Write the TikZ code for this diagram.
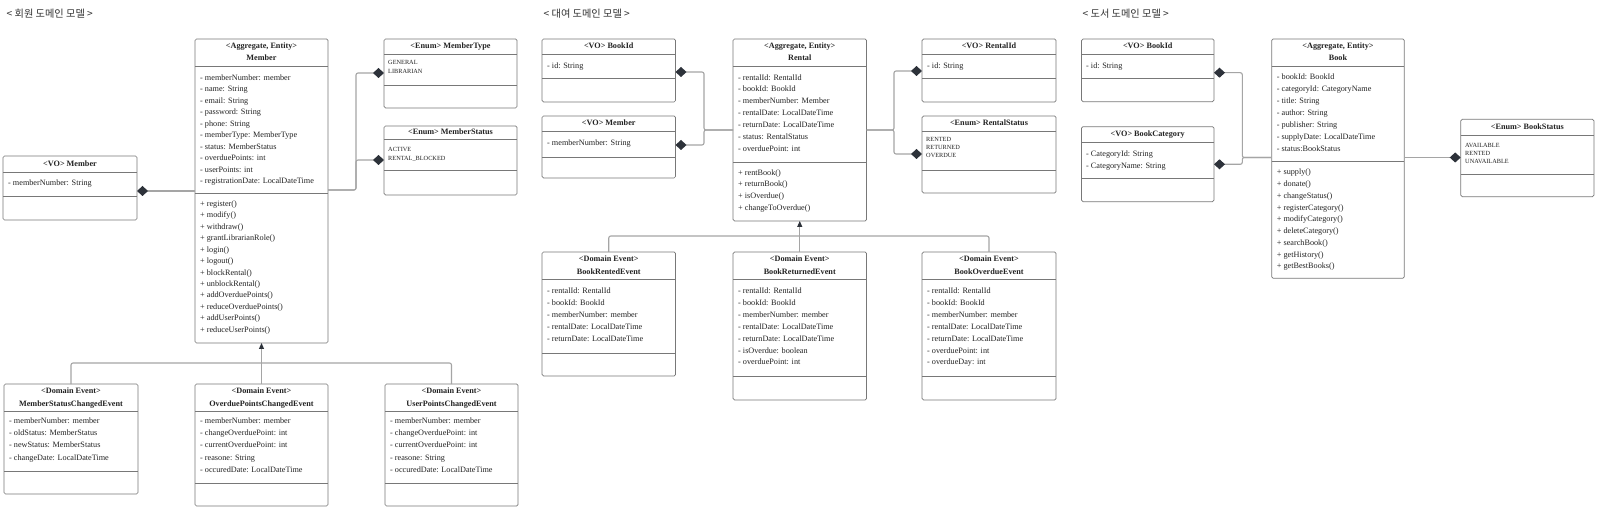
\documentclass[tikz,border=0pt]{standalone}
\usepackage{fontspec}
\setmainfont{Liberation Serif}
\newfontfamily\krfont{Noto Sans CJK KR}
\usetikzlibrary{arrows.meta}
\definecolor{boxline}{RGB}{120,120,120}
\definecolor{connline}{RGB}{165,165,165}
\definecolor{dia}{RGB}{45,50,58}
\definecolor{txt}{RGB}{35,35,35}
\definecolor{ttl}{RGB}{50,50,50}
\tikzset{
  classbox/.style={draw=boxline, fill=white, line width=0.7pt, rounded corners=1.5pt, inner sep=0pt, outer sep=0pt},
  divline/.style={draw=boxline, line width=0.7pt},
  attr/.style={font=\fontsize{8.2}{10}\selectfont, inner sep=0pt, text=txt, anchor=west, text height=5.8pt, text depth=1.6pt},
  hdr/.style={font=\bfseries\fontsize{8.2}{10}\selectfont, inner sep=0pt, text=txt, text height=5.8pt, text depth=1.6pt},
  enumv/.style={font=\fontsize{6.3}{7}\selectfont, inner sep=0pt, text=txt, anchor=west, text height=4.4pt, text depth=0.4pt},
  ttlstyle/.style={font=\krfont\fontsize{10.2}{12}\selectfont, inner sep=0pt, text=ttl, anchor=west},
  conn/.style={draw=connline, line width=1.1pt, rounded corners=2pt},
  comp/.style={conn, -{Diamond[length=11pt, width=10pt, color=dia, fill=dia]}},
  gen/.style={conn, -{Triangle[length=6pt, width=5pt, color=dia, fill=dia]}}
}
\newcommand{\umlbox}[7]{%
  \node[classbox, anchor=north west, minimum width={#4pt-#2pt}, minimum height={#5pt-#3pt}] (#1) at (#2,#3) {};
  \draw[divline] (#2,#6) -- (#4,#6);
  \draw[divline] (#2,#7) -- (#4,#7);
}
\newcommand{\umllines}[6]{%
  \foreach \itm [count=\i from 0] in {#6} {\node[#2] (#1-\i) at ({#3},{#4+\i*#5}) {\itm};}
}
\begin{document}
\begin{tikzpicture}[x=1pt,y=-1pt]
\fill[white] (0,0) rectangle (1607,521);
\useasboundingbox (0,0) rectangle (1607,521);

% titles
\node[ttlstyle] (t1) at (6.5,14) {< 회원 도메인 모델 >};
\node[ttlstyle] (t2) at (543.5,14) {< 대여 도메인 모델 >};
\node[ttlstyle] (t3) at (1082.5,14) {< 도서 도메인 모델 >};

% ===== Member domain =====
\umlbox{memberAgg}{195}{39}{328}{343}{66}{193}
\node[hdr] (memberAgg-h1) at (261.5,46) {<Aggregate, Entity>};
\node[hdr] (memberAgg-h2) at (261.5,58.3) {Member};
\umllines{memberAgg-a}{attr}{200}{78}{11.5}{- memberNumber: member,- name: String,- email: String,- password: String,- phone: String,- memberType: MemberType,- status: MemberStatus,- overduePoints: int,- userPoints: int,- registrationDate: LocalDateTime}
\umllines{memberAgg-m}{attr}{200}{204.3}{11.45}{+ register(),+ modify(),+ withdraw(),+ grantLibrarianRole(),+ login(),+ logout(),+ blockRental(),+ unblockRental(),+ addOverduePoints(),+ reduceOverduePoints(),+ addUserPoints(),+ reduceUserPoints()}

\umlbox{memberType}{384}{39}{517}{108}{54}{85}
\node[hdr] (memberType-h) at (450.5,46.5) {<Enum> MemberType};
\umllines{memberType-v}{enumv}{388}{63}{8.3}{GENERAL,LIBRARIAN}

\umlbox{memberStatus}{384}{126}{517}{195}{139}{170}
\node[hdr] (memberStatus-h) at (450.5,132.5) {<Enum> MemberStatus};
\umllines{memberStatus-v}{enumv}{388}{150}{8.8}{ACTIVE,RENTAL\_BLOCKED}

\umlbox{voMember}{3}{156}{137}{220}{172}{196}
\node[hdr] (voMember-h) at (70,164) {<VO> Member};
\node[attr] (voMember-a) at (8,183.3) {- memberNumber: String};

\umlbox{msce}{4}{384}{138}{494}{411}{471}
\node[hdr] (msce-h1) at (71,391.5) {<Domain Event>};
\node[hdr] (msce-h2) at (71,404) {MemberStatusChangedEvent};
\umllines{msce-a}{attr}{9}{421}{12.3}{- memberNumber: member,- oldStatus: MemberStatus,- newStatus: MemberStatus,- changeDate: LocalDateTime}

\umlbox{opce}{195}{384}{328}{506}{411}{483}
\node[hdr] (opce-h1) at (261.5,391.5) {<Domain Event>};
\node[hdr] (opce-h2) at (261.5,404) {OverduePointsChangedEvent};
\umllines{opce-a}{attr}{200}{421}{12.3}{- memberNumber: member,- changeOverduePoint: int,- currentOverduePoint: int,- reasone: String,- occuredDate: LocalDateTime}

\umlbox{upce}{385}{384}{518}{506}{411}{483}
\node[hdr] (upce-h1) at (451.5,391.5) {<Domain Event>};
\node[hdr] (upce-h2) at (451.5,404) {UserPointsChangedEvent};
\umllines{upce-a}{attr}{390}{421}{12.3}{- memberNumber: member,- changeOverduePoint: int,- currentOverduePoint: int,- reasone: String,- occuredDate: LocalDateTime}

% connectors member
\coordinate (jL) at (356,190);
\draw[comp] (memberAgg.west |- 0,191) -- (voMember.east |- 0,191);
\draw[comp] (memberAgg.east |- jL) -- (jL) -- (356,73) -- (memberType.west |- 0,73);
\draw[comp] (memberAgg.east |- jL) -- (jL) -- (356,160) -- (memberStatus.west |- 0,160);
\coordinate (jE) at (261.5,363);
\draw[conn] (msce.north) |- (jE);
\draw[conn] (upce.north) |- (jE);
\draw[gen] (opce.north) -- (memberAgg.south);

% ===== Rental domain =====
\umlbox{bookIdM}{542}{39}{675.5}{102}{54}{78}
\node[hdr] (bookIdM-h) at (608.75,46.5) {<VO> BookId};
\node[attr] (bookIdM-a) at (547,66) {- id: String};

\umlbox{voMemberM}{542}{116}{675.5}{178}{131}{157}
\node[hdr] (voMemberM-h) at (608.75,123.5) {<VO> Member};
\node[attr] (voMemberM-a) at (547,143) {- memberNumber: String};

\umlbox{rental}{733}{39}{866.5}{221}{66}{162}
\node[hdr] (rental-h1) at (799.75,46) {<Aggregate, Entity>};
\node[hdr] (rental-h2) at (799.75,58.3) {Rental};
\umllines{rental-a}{attr}{738}{78}{11.85}{- rentalId: RentalId,- bookId: BookId,- memberNumber: Member,- rentalDate: LocalDateTime,- returnDate: LocalDateTime,- status: RentalStatus,- overduePoint: int}
\umllines{rental-m}{attr}{738}{173}{11.85}{+ rentBook(),+ returnBook(),+ isOverdue(),+ changeToOverdue()}

\umlbox{rentalId}{922}{39}{1056}{102}{54}{78}
\node[hdr] (rentalId-h) at (989,46.5) {<VO> RentalId};
\node[attr] (rentalId-a) at (927,66) {- id: String};

\umlbox{rentalStatus}{922}{116}{1056}{193}{131}{170}
\node[hdr] (rentalStatus-h) at (989,123.5) {<Enum> RentalStatus};
\umllines{rentalStatus-v}{enumv}{926}{140}{8}{RENTED,RETURNED,OVERDUE}

\umlbox{bre}{542}{252}{675.5}{376}{279.5}{353}
\node[hdr] (bre-h1) at (608.75,259.5) {<Domain Event>};
\node[hdr] (bre-h2) at (608.75,272) {BookRentedEvent};
\umllines{bre-a}{attr}{547}{291.5}{11.9}{- rentalId: RentalId,- bookId: BookId,- memberNumber: member,- rentalDate: LocalDateTime,- returnDate: LocalDateTime}

\umlbox{bret}{733}{252}{866.5}{400}{279.5}{376}
\node[hdr] (bret-h1) at (799.75,259.5) {<Domain Event>};
\node[hdr] (bret-h2) at (799.75,272) {BookReturnedEvent};
\umllines{bret-a}{attr}{738}{291.5}{11.9}{- rentalId: RentalId,- bookId: BookId,- memberNumber: member,- rentalDate: LocalDateTime,- returnDate: LocalDateTime,- isOverdue: boolean,- overduePoint: int}

\umlbox{boe}{922}{252}{1056}{400}{279.5}{376}
\node[hdr] (boe-h1) at (989,259.5) {<Domain Event>};
\node[hdr] (boe-h2) at (989,272) {BookOverdueEvent};
\umllines{boe-a}{attr}{927}{291.5}{11.9}{- rentalId: RentalId,- bookId: BookId,- memberNumber: member,- rentalDate: LocalDateTime,- returnDate: LocalDateTime,- overduePoint: int,- overdueDay: int}

% connectors rental
\coordinate (jM1) at (704,130);
\draw[comp] (rental.west |- jM1) -- (jM1) -- (704,72) -- (bookIdM.east |- 0,72);
\draw[comp] (rental.west |- jM1) -- (jM1) -- (704,145) -- (voMemberM.east |- 0,145);
\coordinate (jM2) at (894,130);
\draw[comp] (rental.east |- jM2) -- (jM2) -- (894,71) -- (rentalId.west |- 0,71);
\draw[comp] (rental.east |- jM2) -- (jM2) -- (894,154) -- (rentalStatus.west |- 0,154);
\coordinate (jE2) at (799.75,236);
\draw[conn] (bre.north) |- (jE2);
\draw[conn] (boe.north) |- (jE2);
\draw[gen] (bret.north) -- (rental.south);

% ===== Book domain =====
\umlbox{bookIdR}{1081.5}{39}{1214}{101.7}{54}{78.3}
\node[hdr] (bookIdR-h) at (1147.75,46.5) {<VO> BookId};
\node[attr] (bookIdR-a) at (1086,66) {- id: String};

\umlbox{bookCat}{1081.5}{126.7}{1214}{201.7}{142.3}{178.3}
\node[hdr] (bookCat-h) at (1147.75,134.3) {<VO> BookCategory};
\umllines{bookCat-a}{attr}{1086}{154.3}{11.8}{- CategoryId: String,- CategoryName: String}

\umlbox{book}{1271.7}{39}{1404.3}{278.3}{66}{161}
\node[hdr] (book-h1) at (1338,46) {<Aggregate, Entity>};
\node[hdr] (book-h2) at (1338,58.3) {Book};
\umllines{book-a}{attr}{1276.7}{77.7}{11.9}{- bookId: BookId,- categoryId: CategoryName,- title: String,- author: String,- publisher: String,- supplyDate: LocalDateTime,- status:BookStatus}
\umllines{book-m}{attr}{1276.7}{172.7}{11.75}{+ supply(),+ donate(),+ changeStatus(),+ registerCategory(),+ modifyCategory(),+ deleteCategory(),+ searchBook(),+ getHistory(),+ getBestBooks()}

\umlbox{bookStatus}{1460.7}{119.3}{1594}{196.7}{135}{174}
\node[hdr] (bookStatus-h) at (1527.35,127) {<Enum> BookStatus};
\umllines{bookStatus-v}{enumv}{1465}{145.7}{8}{AVAILABLE,RENTED,UNAVAILABLE}

% connectors book
\coordinate (jR) at (1242.3,157.5);
\draw[comp] (book.west |- jR) -- (jR) -- (1242.3,72.7) -- (bookIdR.east |- 0,72.7);
\draw[comp] (book.west |- jR) -- (jR) -- (1242.3,164.3) -- (bookCat.east |- 0,164.3);
\draw[comp] (book.east |- jR) -- (bookStatus.west |- jR);
\end{tikzpicture}
\end{document}
